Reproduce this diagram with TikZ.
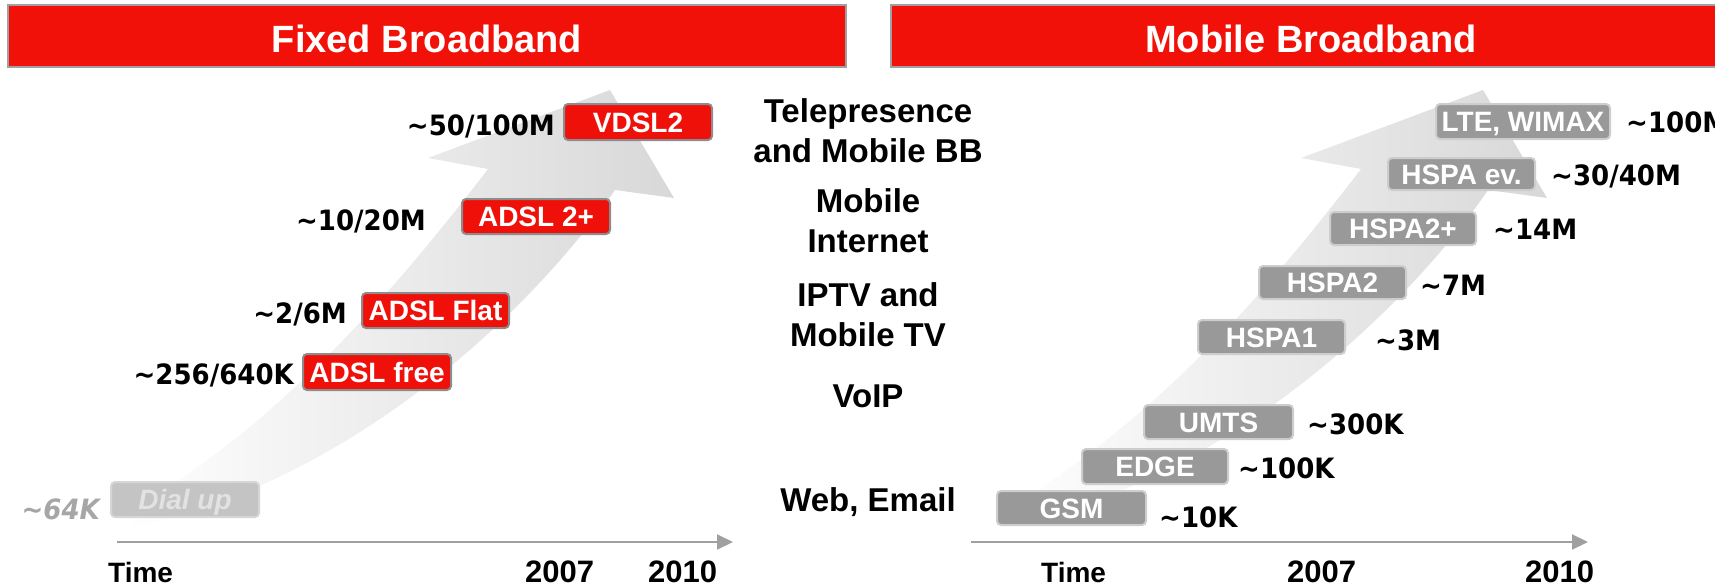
\documentclass[tikz,border=0pt]{standalone}
\usepackage{fontspec}
\setmainfont{Liberation Sans}
\newfontfamily\numfont{DejaVu Sans}[FakeStretch=0.93]
\usetikzlibrary{arrows.meta}
\definecolor{hdrred}{RGB}{242,17,8}
\definecolor{boxred}{RGB}{240,16,10}
\definecolor{boxline}{RGB}{140,140,140}
\definecolor{mobfill}{RGB}{153,153,153}
\definecolor{mobline}{RGB}{205,205,205}
\definecolor{axisgray}{RGB}{160,160,160}
\definecolor{dialfill}{RGB}{196,196,196}
\definecolor{dialline}{RGB}{214,214,214}
\definecolor{dialtext}{RGB}{226,226,226}
\definecolor{slowgray}{RGB}{166,166,166}
\definecolor{bandgray}{RGB}{216,216,216}
\begin{document}
\begin{tikzpicture}[x=1pt,y=-1pt,
  hdrbar/.style={draw=axisgray, line width=1.5pt, fill=hdrred, minimum width=838pt, minimum height=62pt, inner sep=0pt, outer sep=0pt},
  hdrtext/.style={text=white, font=\fontsize{38}{44}\selectfont\bfseries, inner sep=0pt, text height=27pt, text depth=0pt},
  techbox/.style={rounded corners=4pt, line width=2pt, inner sep=0pt, text=white, font=\fontsize{28}{32}\selectfont\bfseries, text height=20pt, text depth=0pt},
  fixbox/.style={techbox, draw=boxline, fill=boxred},
  mobbox/.style={techbox, draw=mobline, fill=mobfill},
  dialbox/.style={techbox, draw=dialline, fill=dialfill, text=dialtext, font=\fontsize{28}{32}\selectfont\bfseries\itshape},
  speed/.style={inner sep=0pt, font=\fontsize{28}{32}\numfont\bfseries},
  topic/.style={inner sep=0pt, align=center, font=\fontsize{33}{40.5}\selectfont\bfseries, anchor=north},
  axislabel/.style={inner sep=0pt, anchor=base west, font=\fontsize{28}{32}\selectfont\bfseries},
  yearlabel/.style={axislabel, font=\fontsize{31}{36}\selectfont\bfseries},
  timeaxis/.style={draw=axisgray, line width=2pt, -{Triangle[length=16pt,width=15pt]}},
  band/.style={left color=white, right color=bandgray, draw=none}
]
\useasboundingbox (0,0) rectangle (1715,587);

% curved growth arrows
\path[band] (125,515) .. controls (275,425) and (378,312) .. (488,169) -- (428,158) -- (610,90) -- (674,198) -- (615,190) .. controls (540,300) and (360,480) .. (130,528) -- cycle;
\begin{scope}[xshift=873pt]
\path[band] (125,515) .. controls (275,425) and (378,312) .. (488,169) -- (428,158) -- (610,90) -- (674,198) -- (615,190) .. controls (540,300) and (360,480) .. (130,528) -- cycle;
\end{scope}

% headers
\node[hdrbar] (fixedbar) at (427,36) {};
\node[hdrtext] (fixedtitle) at (427,38.5) {Fixed Broadband};
\node[hdrbar] (mobilebar) at (1310,36) {};
\node[hdrtext] (mobiletitle) at (1311,38.5) {Mobile Broadband};

% fixed technologies
\node[fixbox, minimum width=148pt, minimum height=36pt] (vdsl) at (638,122) {VDSL2};
\node[fixbox, minimum width=148pt, minimum height=35pt] (adsltwo) at (536,216.5) {ADSL 2+};
\node[fixbox, minimum width=147pt, minimum height=35pt] (adslflat) at (435.5,310.5) {ADSL Flat};
\node[fixbox, minimum width=148pt, minimum height=36pt] (adslfree) at (377,372) {ADSL free};
\node[dialbox, minimum width=148pt, minimum height=35pt] (dial) at (185,499.5) {Dial up};

\node[speed, anchor=base east] (s50) at (555,135) {\textasciitilde 50/100M};
\node[speed, anchor=base east] (s10) at (426,230) {\textasciitilde 10/20M};
\node[speed, anchor=base east] (s2) at (347,323) {\textasciitilde 2/6M};
\node[speed, anchor=base east] (s256) at (294,384) {\textasciitilde 256/640K};
\node[speed, anchor=base east, text=slowgray, font=\fontsize{28}{32}\numfont\bfseries\itshape] (s64) at (100,519) {\textasciitilde 64K};

% services
\node[topic] (tele) at (868,98) {Telepresence\\and Mobile BB};
\node[topic] (mobint) at (868,188) {Mobile\\Internet};
\node[topic] (iptv) at (868,282) {IPTV and\\Mobile TV};
\node[topic] (voip) at (868,385) {VoIP};
\node[topic] (web) at (868,487) {Web, Email};

% mobile technologies
\node[mobbox, minimum width=149pt, minimum height=34pt] (gsm) at (1071.5,508) {GSM};
\node[mobbox, minimum width=146pt, minimum height=35pt] (edge) at (1155,466.5) {EDGE};
\node[mobbox, minimum width=149pt, minimum height=34pt] (umts) at (1218.5,422) {UMTS};
\node[mobbox, minimum width=147pt, minimum height=34pt] (hspaone) at (1271.5,337) {HSPA1};
\node[mobbox, minimum width=147pt, minimum height=33pt] (hspatwo) at (1332.5,282.5) {HSPA2};
\node[mobbox, minimum width=146pt, minimum height=33pt] (hspatwop) at (1403,228.5) {HSPA2+};
\node[mobbox, minimum width=147pt, minimum height=32pt] (hspaev) at (1461.5,174) {HSPA ev.};
\node[mobbox, minimum width=174pt, minimum height=35pt] (lte) at (1523,121.5) {LTE, WIMAX};

\node[speed, anchor=base west] (m100m) at (1626,132) {\textasciitilde 100M};
\node[speed, anchor=base west] (m30) at (1551,185) {\textasciitilde 30/40M};
\node[speed, anchor=base west] (m14) at (1493,239) {\textasciitilde 14M};
\node[speed, anchor=base west] (m7) at (1420,295) {\textasciitilde 7M};
\node[speed, anchor=base west] (m3) at (1375,350) {\textasciitilde 3M};
\node[speed, anchor=base west] (m300) at (1307,434) {\textasciitilde 300K};
\node[speed, anchor=base west] (m100k) at (1238,478) {\textasciitilde 100K};
\node[speed, anchor=base west] (m10) at (1159,527) {\textasciitilde 10K};

% time axes
\coordinate (fa0) at (117,542);
\coordinate (fa1) at (733,542);
\draw[timeaxis] (fa0) -- (fa1);
\coordinate (ma0) at (971,542);
\coordinate (ma1) at (1588,542);
\draw[timeaxis] (ma0) -- (ma1);

\node[axislabel] (ftime) at (108,582) {Time};
\node[yearlabel] (fy07) at (525,582) {2007};
\node[yearlabel] (fy10) at (648,582) {2010};
\node[axislabel] (mtime) at (1041,582) {Time};
\node[yearlabel] (my07) at (1287,582) {2007};
\node[yearlabel] (my10) at (1525,582) {2010};
\end{tikzpicture}
\end{document}
